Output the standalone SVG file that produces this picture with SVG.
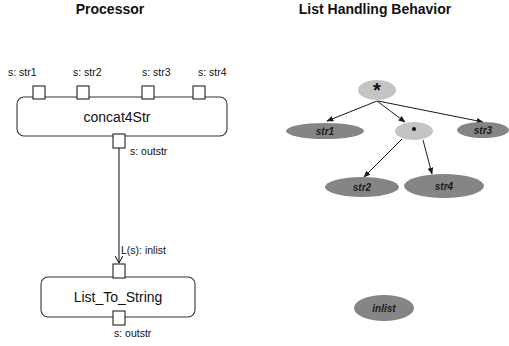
<svg xmlns="http://www.w3.org/2000/svg" width="509" height="346" viewBox="0 0 509 346">
  <defs>
    <marker id="open" viewBox="0 0 10 10" refX="9" refY="5" markerWidth="8" markerHeight="8" orient="auto" markerUnits="userSpaceOnUse">
      <path d="M0,0 L9,5 L0,10" fill="none" stroke="#000" stroke-width="1.2"/>
    </marker>
    <marker id="solid" viewBox="0 0 10 10" refX="9" refY="5" markerWidth="7" markerHeight="7" orient="auto" markerUnits="userSpaceOnUse">
      <path d="M0,1 L10,5 L0,9 Z" fill="#1a1a1a"/>
    </marker>
  </defs>
  <style>
    text { font-family: "Liberation Sans", Arial, sans-serif; fill: #111; }
    .title { font-size: 14px; font-weight: bold; text-anchor: middle; }
    .lbl { font-size: 10.5px; }
    .name { font-size: 14px; text-anchor: middle; }
    .box { fill: #fff; stroke: #333; stroke-width: 1.1; }
    .port { fill: #fff; stroke: #222; stroke-width: 1.1; }
    .wire { stroke: #222; stroke-width: 1.1; fill: none; }
    .light { fill: #c4c4c4; }
    .dark { fill: #858585; }
    .tok { font-size: 10px; font-weight: bold; font-style: italic; text-anchor: middle; fill: #1a1a1a; }
    .tree { stroke: #1a1a1a; stroke-width: 1; fill: none; }
  </style>

  <text class="title" x="110" y="14">Processor</text>
  <text class="title" x="375" y="14">List Handling Behavior</text>

  <!-- processor nodes -->
  <g id="concat4Str">
    <rect class="box" x="17" y="97" width="210" height="39" rx="7"/>
    <text class="name" x="117" y="122">concat4Str</text>
    <rect class="port" x="33" y="86" width="12" height="13"/>
    <rect class="port" x="77" y="86" width="12" height="13"/>
    <rect class="port" x="142" y="86" width="12" height="13"/>
    <rect class="port" x="193" y="86" width="12" height="13"/>
    <rect class="port" x="113" y="134" width="12" height="14"/>
    <text class="lbl" x="8" y="76">s: str1</text>
    <text class="lbl" x="73" y="76">s: str2</text>
    <text class="lbl" x="142" y="76">s: str3</text>
    <text class="lbl" x="198" y="76">s: str4</text>
    <text class="lbl" x="130" y="155">s: outstr</text>
  </g>

  <g id="List_To_String">
    <rect class="box" x="41" y="277" width="154" height="40" rx="7"/>
    <text class="name" x="118" y="302">List_To_String</text>
    <rect class="port" x="113" y="264" width="12" height="14"/>
    <rect class="port" x="113" y="311" width="12" height="14"/>
    <text class="lbl" x="121" y="254">L(s): inlist</text>
    <text class="lbl" x="114" y="337">s: outstr</text>
  </g>

  <g id="connectors">
    <line class="wire" x1="119" y1="148" x2="119" y2="263" marker-end="url(#open)"/>
    <line class="tree" x1="377" y1="101" x2="327" y2="121" marker-end="url(#solid)"/>
    <line class="tree" x1="377" y1="101" x2="405" y2="122" marker-end="url(#solid)"/>
    <line class="tree" x1="378" y1="101" x2="483" y2="122" marker-end="url(#solid)"/>
    <line class="tree" x1="402" y1="139" x2="364" y2="177" marker-end="url(#solid)"/>
    <line class="tree" x1="423" y1="140" x2="432" y2="174" marker-end="url(#solid)"/>
  </g>

  <!-- list handling tree -->
  <g id="star">
    <ellipse class="light" cx="377" cy="90" rx="19" ry="10"/>
    <text x="377" y="97" font-size="20" font-weight="bold" text-anchor="middle">*</text>
  </g>
  <g id="str1">
    <ellipse class="dark" cx="325" cy="131" rx="39" ry="8"/>
    <text class="tok" x="325" y="135">str1</text>
  </g>
  <g id="dot">
    <ellipse class="light" cx="414" cy="131" rx="19" ry="9"/>
    <circle cx="414" cy="129" r="2" fill="#111"/>
  </g>
  <g id="str3">
    <ellipse class="dark" cx="483" cy="130" rx="26" ry="8"/>
    <text class="tok" x="483" y="134">str3</text>
  </g>
  <g id="str2">
    <ellipse class="dark" cx="362" cy="187" rx="37" ry="10"/>
    <text class="tok" x="362" y="191">str2</text>
  </g>
  <g id="str4">
    <ellipse class="dark" cx="444" cy="186" rx="40" ry="12"/>
    <text class="tok" x="444" y="190">str4</text>
  </g>
  <g id="inlist">
    <ellipse class="dark" cx="384" cy="308" rx="30" ry="13"/>
    <text class="tok" x="384" y="312">inlist</text>
  </g>
</svg>
